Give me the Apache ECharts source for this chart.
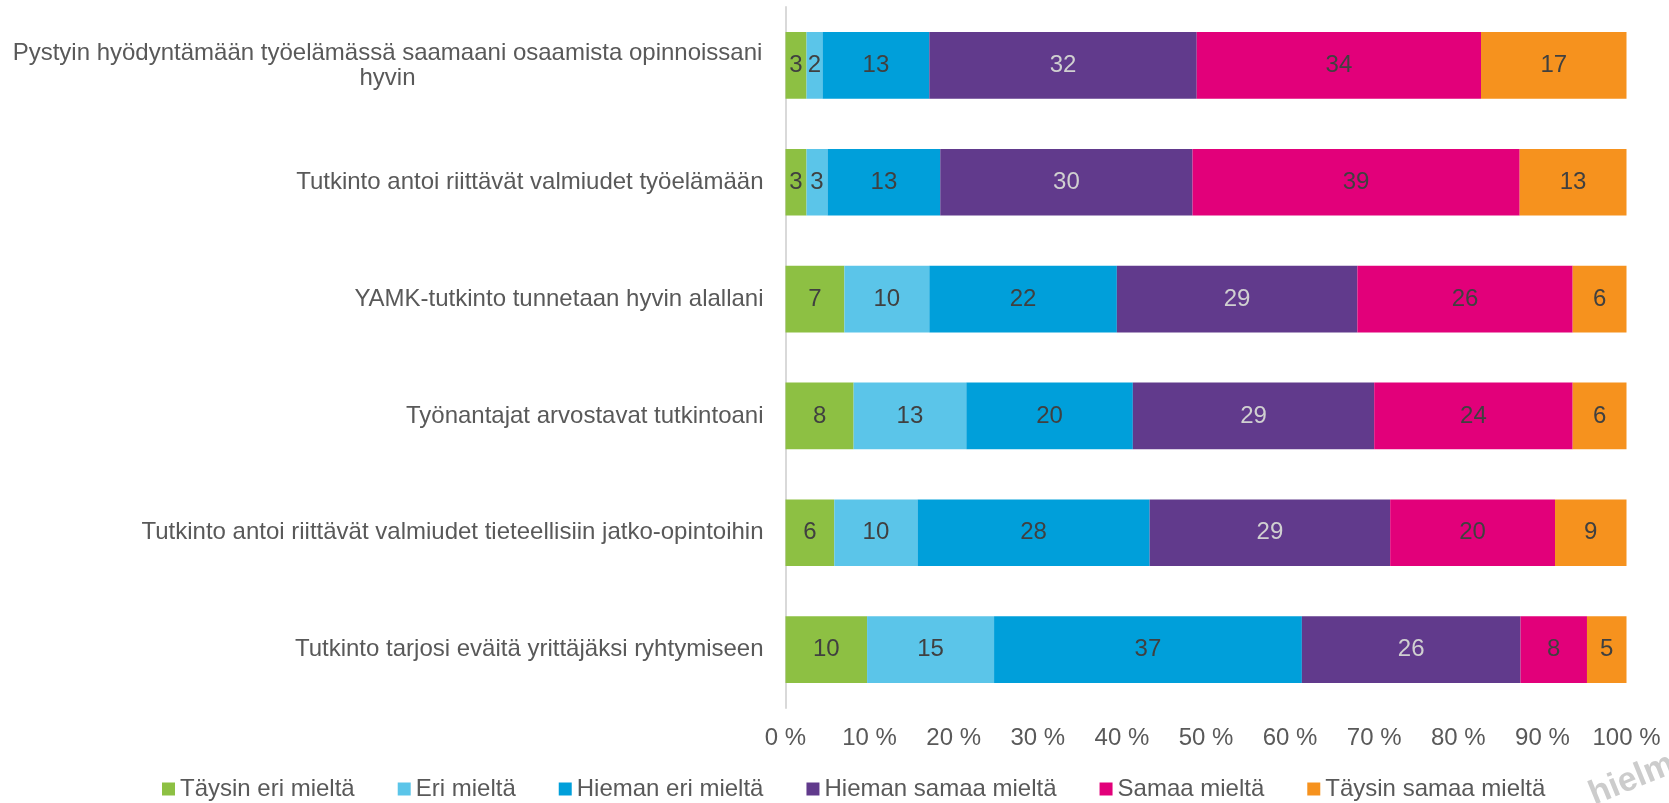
<!DOCTYPE html>
<html>
<head>
<meta charset="utf-8">
<script src="https://cdn.jsdelivr.net/npm/echarts@6/dist/echarts.min.js"></script>
<style>
  html, body { margin: 0; padding: 0; background: #fff; }
  #main { width: 1669px; height: 803px; }
</style>
</head>
<body>
<div id="main"></div>
<script>
// kysymykset (ylhäältä alas)
var questions = [
    'Pystyin hyödyntämään työelämässä saamaani osaamista opinnoissani\nhyvin',
    'Tutkinto antoi riittävät valmiudet työelämään',
    'YAMK-tutkinto tunnetaan hyvin alallani',
    'Työnantajat arvostavat tutkintoani',
    'Tutkinto antoi riittävät valmiudet tieteellisiin jatko-opintoihin',
    'Tutkinto tarjosi eväitä yrittäjäksi ryhtymiseen'
];
var seriesNames = ['Täysin eri mieltä', 'Eri mieltä', 'Hieman eri mieltä', 'Hieman samaa mieltä', 'Samaa mieltä', 'Täysin samaa mieltä'];
var xTicks = [0, 10, 20, 30, 40, 50, 60, 70, 80, 90, 100];

// osuudet (%) luettu kuvasta, yksi taulukko per vastausvaihtoehto
var taysinEri   = [2.5, 2.5, 7.0, 8.1, 5.8, 9.7];
var eri         = [1.9, 2.5, 10.1, 13.4, 9.9, 15.1];
var hiemanEri   = [12.7, 13.4, 22.3, 19.8, 27.6, 36.6];
var hiemanSamaa = [31.8, 30.0, 28.6, 28.7, 28.6, 26.0];
var samaa       = [33.8, 38.9, 25.6, 23.6, 19.6, 7.9];
var taysinSamaa = [17.3, 12.7, 6.4, 6.4, 8.5, 4.7];

var values = [taysinEri, eri, hiemanEri, hiemanSamaa, samaa, taysinSamaa];
var colors = ['#8DC043', '#5BC5E9', '#009FDA', '#613A8C', '#E2007A', '#F6921E'];
var labelColors = ['#404040', '#404040', '#404040', '#D0D0D0', '#404040', '#404040'];

var FONT = '"Liberation Sans", Arial, sans-serif';
var FS = 24;

// mitataan pisimmän rivin leveys, jotta kaksirivinen otsikko keskitetään
var cv = document.createElement('canvas').getContext('2d');
cv.font = FS + 'px ' + FONT;
var firstLineW = Math.ceil(cv.measureText(questions[0].split('\n')[0]).width) + 2;

var myChart = echarts.init(document.getElementById('main'));

var series = [];
seriesNames.forEach(function (name, i) {
    series.push({
        name: name,
        type: 'bar',
        stack: 'total',
        barWidth: '57%',
        data: values[i],
        itemStyle: {
            color: colors[i]
        },
        label: {
            show: true,
            position: 'inside',
            fontFamily: FONT,
            fontSize: FS,
            color: labelColors[i],
            formatter: function (p) {
                return Math.round(p.value);
            }
        }
    });
});

var option = {
    backgroundColor: '#fff',
    animation: false,
    textStyle: { fontFamily: FONT },
    grid: {
        left: 785.5,
        right: 42.5,
        top: 7,
        bottom: 95,
        containLabel: false
    },
    legend: {
        data: seriesNames,
        left: 157,
        top: 772,
        icon: 'rect',
        itemWidth: 13,
        itemHeight: 13,
        itemGap: 43,
        textStyle: {
            fontFamily: FONT,
            fontSize: FS,
            color: '#595959'
        }
    },
    xAxis: {
        type: 'value',
        min: 0,
        max: 100,
        interval: 10,
        axisLine: { show: false },
        axisTick: { show: false },
        splitLine: { show: false },
        axisLabel: {
            margin: 18,
            fontFamily: FONT,
            fontSize: FS,
            color: '#595959',
            formatter: '{value} %'
        }
    },
    yAxis: {
        type: 'category',
        inverse: true,
        data: questions,
        axisLine: {
            lineStyle: { color: '#D9D9D9', width: 2 }
        },
        axisTick: { show: false },
        axisLabel: {
            margin: 22,
            fontFamily: FONT,
            fontSize: FS,
            color: '#595959',
            lineHeight: 25,
            formatter: function (val, idx) {
                if (val.indexOf('\n') >= 0) {
                    return val.split('\n').map(function (s) { return '{c|' + s + '}'; }).join('\n');
                }
                return val;
            },
            rich: {
                c: {
                    width: firstLineW,
                    align: 'center',
                    fontFamily: FONT,
                    fontSize: FS,
                    color: '#595959',
                    lineHeight: 25
                }
            }
        }
    },
    graphic: [{
        type: 'text',
        x: 1597,
        y: 812,
        rotation: 22 * Math.PI / 180,
        silent: true,
        style: {
            text: 'hielmi',
            fontFamily: FONT,
            fontWeight: 'bold',
            fontSize: 34,
            verticalAlign: 'bottom',
            fill: '#CCCCCC'
        }
    }],
    series: series
};

myChart.setOption(option);
</script>
</body>
</html>
